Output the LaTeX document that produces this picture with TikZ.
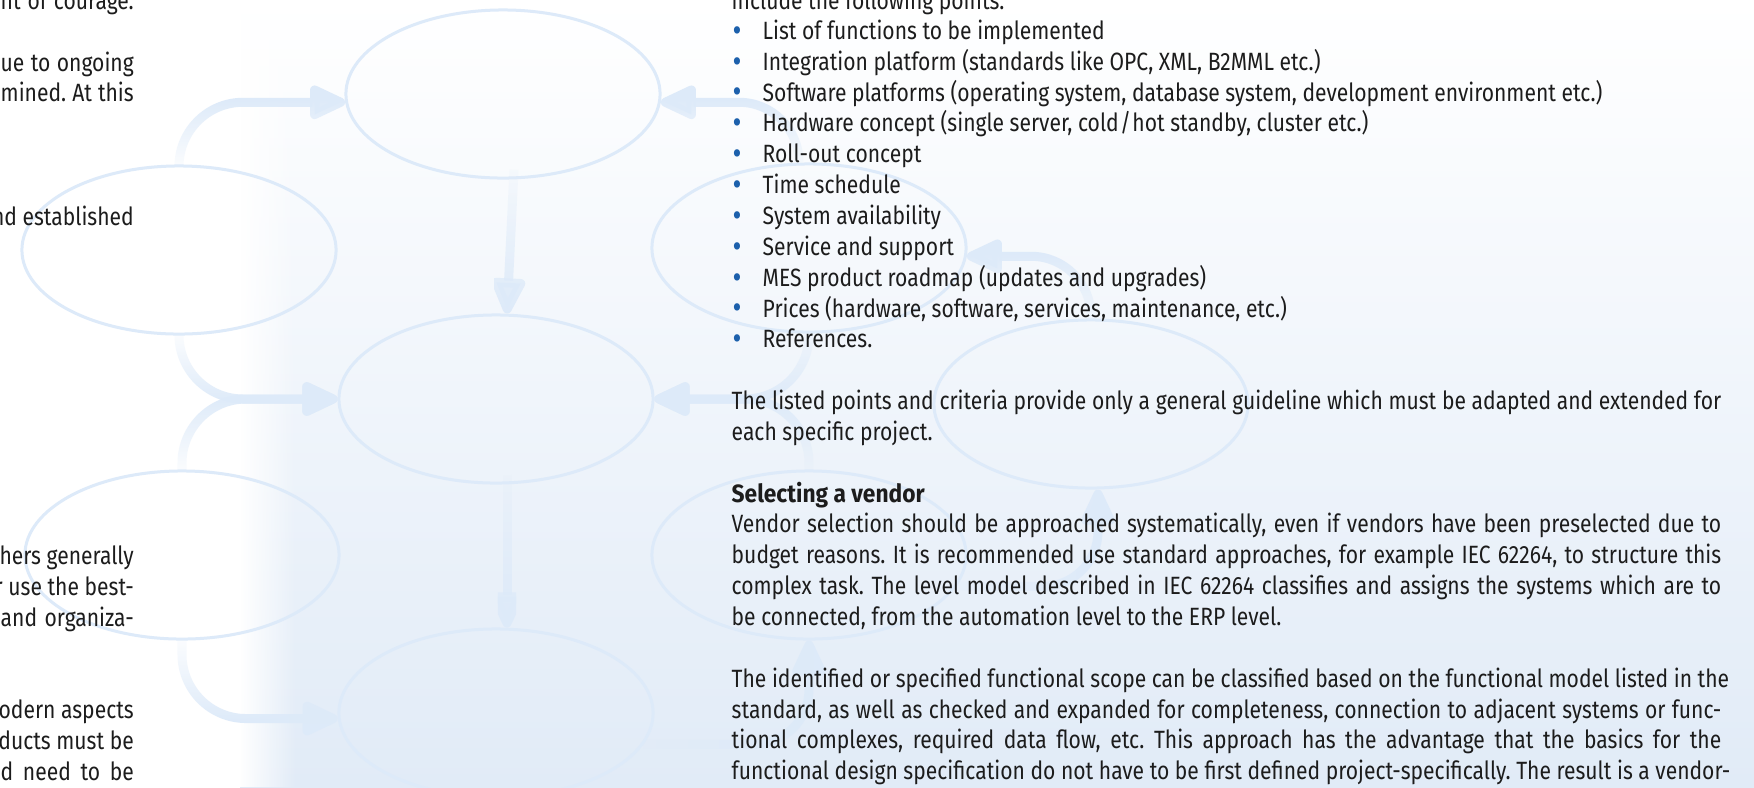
\documentclass[tikz,border=0pt]{standalone}
\usepackage{fontspec}
\setmainfont{Fira Sans}[FakeStretch=0.843]
\newfontfamily\headfont{Fira Sans}[FakeStretch=0.91]
\usetikzlibrary{arrows.meta,calc,fadings,shapes.geometric}

\definecolor{diag}{RGB}{221,234,249}
\definecolor{bgmid}{RGB}{243,246,251}
\definecolor{bgblue}{RGB}{225,235,247}
\definecolor{bullblue}{RGB}{28,96,172}
\definecolor{ink}{RGB}{28,28,28}

\newcommand\pagetextfont{\fontsize{7.11pt}{8.8pt}\selectfont\frenchspacing}
% justified line of the right column (overflows to the right if too long)
\newcommand\jfull[1]{\hbox to 9.89cm{#1\hskip 0pt minus 1fil}}
% justified line of the left column, cut off by the left page edge
\newcommand\jleft[1]{\hbox to 1.33cm{\hskip 0pt minus 1fil #1}}
% list bullet, slightly enlarged and kept on the x-height middle
\newcommand\listdot{\raisebox{-0.55pt}{\scalebox{1.3}{\textbullet}}}

% soft left edge of the tinted panel
\tikzfading[name=edgefade, left color=transparent!0, right color=transparent!100]
% connectors fade out towards the ellipse they leave
\tikzfading[name=fromsouth, top color=transparent!0, middle color=transparent!20, bottom color=transparent!92]
\tikzfading[name=fromnorth, bottom color=transparent!0, middle color=transparent!20, top color=transparent!92]
\tikzfading[name=fromwest, right color=transparent!0, middle color=transparent!20, left color=transparent!92]

\tikzset{
  blob/.style={ellipse, draw=diag, line width=0.03cm, minimum width=3.14cm,
    minimum height=1.68cm, inner sep=0pt},
  flow/.style={draw=diag, line width=0.09cm,
    -{Triangle[length=0.42cm, width=0.36cm, round]}},
  txt/.style={anchor=base west, inner sep=0pt, text=ink, font=\pagetextfont},
  dot/.style={anchor=base, inner sep=0pt, text=bullblue, font=\pagetextfont},
}

\begin{document}
\begin{tikzpicture}[x=0.01cm, y=-0.01cm]
\useasboundingbox (0,0) rectangle (1754,787);
\clip (0,0) rectangle (1754,787);

% page background: white margin, tinted panel with a soft left edge
\fill[white] (0,0) rectangle (1754,787);
\shade[top color=white, middle color=bgmid, bottom color=bgblue] (240,0) rectangle (1754,787);
\fill[white, path fading=edgefade] (240,0) rectangle (296,787);

% watermark process diagram
\node[blob] (A) at (503,94) {};
\node[blob] (B) at (179,250) {};
\node[blob] (C) at (496,399) {};
\node[blob] (D) at (182,555) {};
\node[blob] (E) at (496,713) {};
\node[blob] (F) at (809,248) {};
\node[blob] (G) at (1091,404) {};
\node[blob] (H) at (809,555) {};

\draw[flow, rounded corners=0.64cm, path fading=fromsouth] (B.north) |- (A.183);
\draw[flow, rounded corners=0.64cm, path fading=fromnorth] (B.south) |- (C.west);
\draw[flow, rounded corners=0.64cm, path fading=fromsouth] (D.north) |- (C.west);
\draw[flow, rounded corners=0.64cm, path fading=fromnorth] (D.south) |- (E.182);
\draw[flow, path fading=fromnorth] ($(A.south)+(11,-10)$) -- ($(C.north)+(11,0)$);
\draw[flow, path fading=fromnorth] ($(C.south)+(11,-10)$) -- ($(E.north)+(11,0)$);
\draw[flow, rounded corners=0.6cm, path fading=fromsouth] ($(F.north)+(-10,0)$) |- (A.357);
\draw[flow, rounded corners=0.6cm, path fading=fromsouth] (G.north) |- (F.357);
\draw[flow, rounded corners=0.64cm, path fading=fromnorth] (F.south) |- (C.east);
\draw[flow, rounded corners=0.64cm, path fading=fromsouth] (H.north) |- (C.east);
\draw[flow, rounded corners=0.55cm, path fading=fromwest] (E.-12) -| (H.south);
\draw[flow, rounded corners=0.55cm, path fading=fromwest] (H.-12) -| ($(G.south)+(7,0)$);

% left column (cut by the page edge)
\node[txt] (l1) at (0,9.3) {\jleft{nt of courage.}};
\node[txt] (l2) at (0,71) {\jleft{ue to ongoing}};
\node[txt] (l3) at (0,101.9) {\jleft{mined. At this}};
\node[txt] (l4) at (0,225.3) {\jleft{nd established}};
\node[txt] (l5) at (0,564.6) {\jleft{hers generally}};
\node[txt] (l6) at (0,595.4) {\jleft{r use the best-}};
\node[txt] (l7) at (0,626.3) {\jleft{and organiza-}};
\node[txt] (l8) at (0,718.8) {\jleft{odern aspects}};
\node[txt] (l9) at (0,749.7) {\jleft{ducts must be}};
\node[txt] (l10) at (0,780.5) {\jleft{d need to be}};

% right column
\node[txt] (r0) at (731,9.3) {include the following points.};

\node[dot] (d1) at (737,39.3) {\listdot};
\node[txt] (i1) at (762,39.3) {List of functions to be implemented};
\node[dot] (d2) at (737,70.2) {\listdot};
\node[txt] (i2) at (762,70.2) {Integration platform (standards like OPC, XML, B2MML etc.)};
\node[dot] (d3) at (737,101) {\listdot};
\node[txt] (i3) at (762,101) {Software platforms (operating system, database system, development environment etc.)};
\node[dot] (d4) at (737,131.9) {\listdot};
\node[txt] (i4) at (762,131.9) {Hardware concept (single server, cold\kern0.4pt/\kern0.4pt hot standby, cluster etc.)};
\node[dot] (d5) at (737,162.7) {\listdot};
\node[txt] (i5) at (762,162.7) {Roll-out concept};
\node[dot] (d6) at (737,193.6) {\listdot};
\node[txt] (i6) at (762,193.6) {Time schedule};
\node[dot] (d7) at (737,224.4) {\listdot};
\node[txt] (i7) at (762,224.4) {System availability};
\node[dot] (d8) at (737,255.3) {\listdot};
\node[txt] (i8) at (762,255.3) {Service and support};
\node[dot] (d9) at (737,286.1) {\listdot};
\node[txt] (i9) at (762,286.1) {MES product roadmap (updates and upgrades)};
\node[dot] (d10) at (737,317) {\listdot};
\node[txt] (i10) at (762,317) {Prices (hardware, software, services, maintenance, etc.)};
\node[dot] (d11) at (737,347.8) {\listdot};
\node[txt] (i11) at (762,347.8) {References.};

\node[txt] (p1) at (731,409.5) {\jfull{The listed points and criteria provide only a general guideline which must be adapted and extended for}};
\node[txt] (p2) at (731,440.4) {each specific project.};

\node[txt] (h1) at (731,502.1) {\headfont\bfseries Selecting a vendor};
\node[txt] (p3) at (731,532.9) {\jfull{Vendor selection should be approached systematically, even if vendors have been preselected due to}};
\node[txt] (p4) at (731,563.8) {\jfull{budget reasons. It is recommended use standard approaches, for example IEC 62264, to structure this}};
\node[txt] (p5) at (731,594.6) {\jfull{complex task. The level model described in IEC 62264 classifies and assigns the systems which are to}};
\node[txt] (p6) at (731,625.5) {be connected, from the automation level to the ERP level.};

\node[txt] (p7) at (731,687.2) {\jfull{The identified or specified functional scope can be classified based on the functional model listed in the}};
\node[txt] (p8) at (731,718) {\jfull{standard, as well as checked and expanded for completeness, connection to adjacent systems or func-}};
\node[txt] (p9) at (731,748.9) {\jfull{tional complexes, required data flow, etc. This approach has the advantage that the basics for the}};
\node[txt] (p10) at (731,779.7) {\jfull{functional design specification do not have to be first defined project-specifically. The result is a vendor-}};
\end{tikzpicture}
\end{document}
